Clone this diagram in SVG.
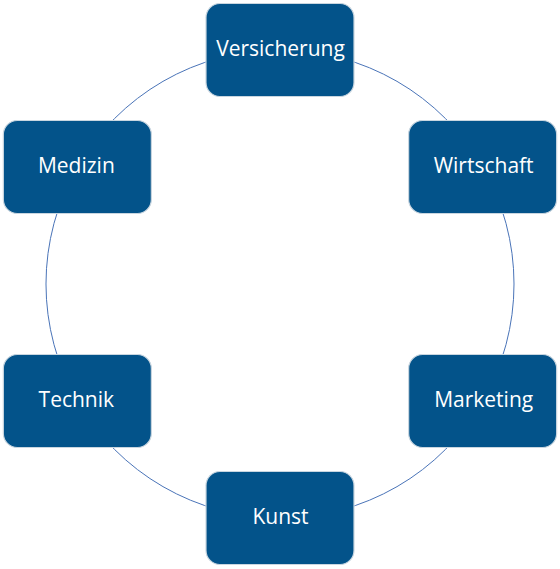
<svg xmlns="http://www.w3.org/2000/svg" width="560" height="569" viewBox="0 0 560 569">
<style>
.box{fill:#03538A;stroke:#c9d6e0;stroke-width:1.2}
.lbl{font-family:"Open Sans","Liberation Sans",Arial,sans-serif;font-size:21px;fill:#ffffff;text-anchor:middle;dominant-baseline:central}
.arc{fill:none;stroke:#4a74b8;stroke-width:1}
</style>
<rect width="560" height="569" fill="#ffffff"/>
<g id="connectors">
<path class="arc" d="M280 50 A234 234 0 0 1 482.65 167"/>
<path class="arc" d="M482.65 167 A234 234 0 0 1 482.65 401"/>
<path class="arc" d="M482.65 401 A234 234 0 0 1 280 518"/>
<path class="arc" d="M280 518 A234 234 0 0 1 77.35 401"/>
<path class="arc" d="M77.35 401 A234 234 0 0 1 77.35 167"/>
<path class="arc" d="M77.35 167 A234 234 0 0 1 280 50"/>
</g>
<g id="versicherung"><rect class="box" x="206" y="3.5" width="148" height="93" rx="14"/><text class="lbl" x="280.5" y="48">Versicherung</text></g>
<g id="wirtschaft"><rect class="box" x="408.65" y="120.5" width="148" height="93" rx="14"/><text class="lbl" x="483.65" y="165">Wirtschaft</text></g>
<g id="marketing"><rect class="box" x="408.65" y="354.5" width="148" height="93" rx="14"/><text class="lbl" x="483.65" y="399">Marketing</text></g>
<g id="kunst"><rect class="box" x="206" y="471.5" width="148" height="93" rx="14"/><text class="lbl" x="280.5" y="516">Kunst</text></g>
<g id="technik"><rect class="box" x="3.35" y="354.5" width="148" height="93" rx="14"/><text class="lbl" x="76.35" y="399">Technik</text></g>
<g id="medizin"><rect class="box" x="3.35" y="120.5" width="148" height="93" rx="14"/><text class="lbl" x="76.35" y="165">Medizin</text></g>
</svg>
